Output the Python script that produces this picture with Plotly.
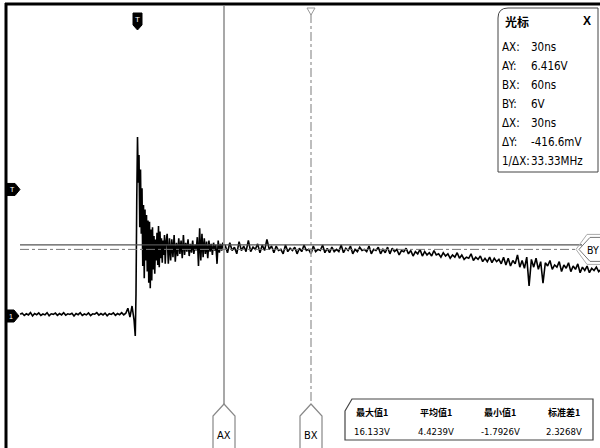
import numpy as np
import plotly.graph_objects as go

W, H = 600, 448

# ---- waveform samples (V) ----
pre_v = [0.15, 0.25, 0.05, 0.2, 0.1, 0.3, 0.0, 0.22, 0.12, 0.28, 0.05, 0.18, 0.1, 0.3, 0.02,
         0.2, 0.15, 0.26, 0.06, 0.22, 0.1, 0.3, 0.08, 0.2, 0.14, 0.25, 0.0, 0.22, 0.12, 0.3,
         0.05, 0.18, 0.1, 0.28, 0.04, 0.2, 0.16, 0.3, 0.08, 0.22, 0.1, 0.26, 0.02, 0.2, 0.14,
         0.28, 0.06, 0.22, 0.12, 0.3, 0.1, 0.25, 0.7, -0.1, 0.9, -0.4]
burst_v = [-1.79, 2.0, 10.5, 16.13, 12.0, 14.5, 8.0, 13.2, 7.4, 11.5, 4.5, 10.0, 3.4, 9.6,
           5.0, 9.1, 4.0, 8.6, 3.0, 8.5, 2.5, 7.8, 3.2, 8.0, 4.2, 7.2, 3.8, 6.9, 5.0, 7.5,
           4.6, 8.1, 4.4, 7.6, 5.2, 7.0, 4.8, 6.8, 5.5, 7.3, 4.7, 6.6]
ring_v = [7.4, 4.7, 7.0, 5.0, 6.9, 5.3, 7.3, 4.9, 6.6, 5.4, 7.0, 5.6, 6.8, 5.2, 7.3, 5.5,
          6.6, 5.8, 6.9, 5.4, 6.5, 5.7, 6.8, 5.6, 6.4, 5.9, 7.1, 4.5, 7.9, 5.0, 7.4, 5.3,
          7.0, 5.6, 6.7, 5.2, 6.8, 5.8, 6.5, 5.5, 6.6, 5.9, 6.4, 4.7, 6.8, 5.7, 6.5, 5.9,
          6.6, 6.0]
tail_v = [6.4, 5.7, 6.6, 5.9, 6.2, 5.6, 6.7, 5.9, 6.3, 5.8,
          6.8, 5.8, 6.2, 6.0, 6.5, 5.7, 6.4, 5.9, 6.9, 6.0,
          6.3, 5.7, 6.3, 5.9, 6.0, 5.6, 6.4, 5.8, 6.1, 5.9,
          6.2, 5.6, 6.1, 5.8, 6.4, 5.9, 6.0, 5.6, 6.3, 5.8,
          6.0, 5.9, 6.4, 5.7, 6.1, 5.7, 6.2, 5.8, 6.0, 5.8,
          6.4, 5.7, 6.1, 5.9, 6.3, 5.6, 6.0, 5.8, 6.2, 5.9,
          6.0, 5.8, 6.3, 5.6, 6.0, 5.9, 6.2, 5.6, 6.0, 5.7,
          6.2, 5.6, 6.1, 5.8, 6.0, 5.5, 5.9, 5.8, 6.1, 5.6,
          5.9, 5.4, 5.8, 5.6, 6.0, 5.4, 5.8, 5.5, 5.7, 5.4,
          5.9, 5.5, 5.6, 5.3, 5.7, 5.4, 5.6, 5.2, 5.5, 5.3,
          5.7, 5.2, 5.5, 5.1, 5.3, 5.2, 5.6, 5.0, 5.3, 5.1,
          5.4, 4.9, 5.2, 4.9, 5.3, 4.8, 5.2, 4.9, 5.1, 4.7,
          5.3, 4.6, 5.2, 4.5, 5.0, 4.7, 5.5, 4.4, 5.0, 4.3,
          5.3, 2.7, 5.1, 4.4, 5.2, 4.2, 4.9, 2.95, 4.8, 4.5,
          5.0, 4.2, 4.6, 4.4, 4.9, 4.0, 4.6, 4.3, 4.8, 4.0,
          4.5, 4.2, 4.7, 3.9, 4.4, 4.1, 4.5, 3.9, 4.3, 4.1,
          4.4, 4.0, 4.2]

# segment time spans (ns)
pre_span = (-40.3, -1.0)
burst_span = (-0.6, 10.0)
ring_span = (10.4, 30.0)
tail_span = (30.4, 160.0)

# cursors
ax_t, bx_t = 30, 60
ay_v, by_v = 6.416, 6.0
trig_level = 11.4

cursor_labels = ["AX:", "AY:", "BX:", "BY:", "ΔX:", "ΔY:", "1/ΔX:"]
cursor_values = ["30ns", "6.416V", "60ns", "6V", "30ns", "-416.6mV", "33.33MHz"]
meas_names = ["最大值1", "平均值1", "最小值1", "标准差1"]
meas_values = ["16.133V", "4.4239V", "-1.7926V", "2.3268V"]

t = np.concatenate([
    np.linspace(*pre_span, len(pre_v)),
    np.linspace(*burst_span, len(burst_v)),
    np.linspace(*ring_span, len(ring_v)),
    np.linspace(*tail_span, len(tail_v)),
])
v = np.array(pre_v + burst_v + ring_v + tail_v)

# pixel mapping: t=0 at px 137, 2.9 px/ns; 0 V at py 316, 11.1 px/V
x0_px, x_scale = 137, 2.9
y0_px, y_scale = 316, 11.1
xr = [(0 - x0_px) / x_scale, (W - x0_px) / x_scale]
yr = [(y0_px - H) / y_scale, (y0_px - 0) / y_scale]


def P(x, y):
    return f"{x / W:.5f},{1 - y / H:.5f}"


def path(pts, close=True):
    s = "M " + " L ".join(P(x, y) for x, y in pts)
    return s + (" Z" if close else "")


fig = go.Figure()
fig.add_trace(go.Scatter(x=t, y=v, mode="lines",
                         line=dict(color="black", width=1.6), hoverinfo="skip"))

shapes = []
# cursor lines
shapes.append(dict(type="line", xref="x", yref="paper", x0=ax_t, x1=ax_t,
                   y0=1 - 6 / H, y1=1 - 404 / H, line=dict(color="#a8a8a8", width=2)))
shapes.append(dict(type="line", xref="x", yref="paper", x0=bx_t, x1=bx_t,
                   y0=1 - 14 / H, y1=1 - 404 / H,
                   line=dict(color="#a8a8a8", width=1.5, dash="dashdot")))
shapes.append(dict(type="line", xref="paper", yref="y", x0=20 / W, x1=582 / W,
                   y0=ay_v, y1=ay_v, line=dict(color="#555555", width=1.3)))
shapes.append(dict(type="line", xref="paper", yref="y", x0=20 / W, x1=578 / W,
                   y0=by_v, y1=by_v, line=dict(color="#777777", width=1, dash="dashdot")))

# frame
shapes.append(dict(type="line", xref="paper", yref="paper", x0=5 / W, x1=1,
                   y0=1 - 4 / H, y1=1 - 4 / H, line=dict(color="black", width=3)))
shapes.append(dict(type="line", xref="paper", yref="paper", x0=6 / W, x1=6 / W,
                   y0=1 - 3 / H, y1=0, line=dict(color="black", width=3)))

# AX / BX markers at bottom
for cx_t in (ax_t, bx_t):
    cx = x0_px + cx_t * x_scale
    shapes.append(dict(type="path", xref="paper", yref="paper",
                       path=path([(cx - 11, 449), (cx - 11, 416), (cx, 404),
                                  (cx + 11, 416), (cx + 11, 449)], close=False),
                       line=dict(color="#888888", width=1.2)))
# BX small top triangle
bxp = x0_px + bx_t * x_scale
shapes.append(dict(type="path", xref="paper", yref="paper",
                   path=path([(bxp - 4, 8), (bxp + 4, 8), (bxp, 15)]),
                   line=dict(color="#999999", width=1)))

# BY marker at right
byp = y0_px - by_v * y_scale
for off, col in ((0, "#777777"), (3, "#aaaaaa")):
    shapes.append(dict(type="path", xref="paper", yref="paper",
                       path=path([(601, byp - 12 - off), (590 - off, byp - 12 - off),
                                  (579 - off, byp), (590 - off, byp + 12 + off),
                                  (601, byp + 12 + off)], close=False),
                       line=dict(color=col, width=1)))

# trigger marker at top (T)
shapes.append(dict(type="path", xref="paper", yref="paper",
                   path=path([(133, 13), (142, 13), (142, 25), (137.5, 30), (133, 25)]),
                   fillcolor="black", line=dict(color="black", width=1)))
# trigger level marker at left
tl = y0_px - trig_level * y_scale
shapes.append(dict(type="path", xref="paper", yref="paper",
                   path=path([(6, tl - 6), (15, tl - 6), (20, tl), (15, tl + 6), (6, tl + 6)]),
                   fillcolor="black", line=dict(color="black", width=1)))
# channel 1 ground marker
shapes.append(dict(type="path", xref="paper", yref="paper",
                   path=path([(6, y0_px - 6), (14, y0_px - 6), (19, y0_px), (14, y0_px + 6), (6, y0_px + 6)]),
                   fillcolor="black", line=dict(color="black", width=1)))

# cursor box
shapes.append(dict(type="path", xref="paper", yref="paper",
                   path="M " + P(498, 18) + " Q " + P(498, 8) + " " + P(508, 8) +
                        " L " + P(598, 8) + " L " + P(598, 172) + " L " + P(498, 172) + " Z",
                   fillcolor="white", line=dict(color="#444444", width=1)))
# measurement box
shapes.append(dict(type="path", xref="paper", yref="paper",
                   path=path([(345, 411), (352, 399), (593, 399), (593, 440), (345, 440)]),
                   fillcolor="white", line=dict(color="#444444", width=1.2)))

ann = []
F = "DejaVu Sans Condensed, Liberation Sans Narrow, Liberation Sans, sans-serif"


def txt(x, y, s, size=11, anchor="left", color="black", family=F):
    ann.append(dict(x=x / W, y=1 - y / H, xref="paper", yref="paper", text=s,
                    showarrow=False, xanchor=anchor, yanchor="middle",
                    font=dict(size=size, color=color, family=family)))


txt(503, 21, "<b>光标</b>", 12, family="Noto Sans CJK SC")
txt(587, 21, "<b>X</b>", 12, anchor="center", family="Liberation Sans")
for i, (lab, val) in enumerate(zip(cursor_labels, cursor_values)):
    yy = 47 + i * 19
    txt(500, yy, lab, 11.5)
    txt(529, yy, val, 11.5)

for i, (nm, val) in enumerate(zip(meas_names, meas_values)):
    cx = 372 + i * 64
    txt(cx, 412, "<b>" + nm + "</b>", 9, anchor="center", family="Noto Sans CJK SC")
    txt(cx, 431, val, 9.5, anchor="center")

for cx_t, lab in ((ax_t, "AX"), (bx_t, "BX")):
    txt(x0_px + cx_t * x_scale, 435, lab, 11, anchor="center")
txt(585, byp + 1, "BY", 10.5)
txt(137.5, 20, "T", 8, anchor="center", color="white", family="Liberation Sans")
txt(12, tl, "T", 7, anchor="center", color="white", family="Liberation Sans")
txt(11, y0_px, "1", 7, anchor="center", color="white", family="Liberation Sans")

fig.update_layout(
    width=W, height=H, margin=dict(l=0, r=0, t=0, b=0),
    paper_bgcolor="white", plot_bgcolor="white", showlegend=False,
    xaxis=dict(range=xr, visible=False, fixedrange=True),
    yaxis=dict(range=yr, visible=False, fixedrange=True),
    shapes=shapes, annotations=ann,
)
fig.write_html("out.html", config={"displayModeBar": False},
               post_script="document.body.style.margin='0';document.body.style.overflow='hidden';")
